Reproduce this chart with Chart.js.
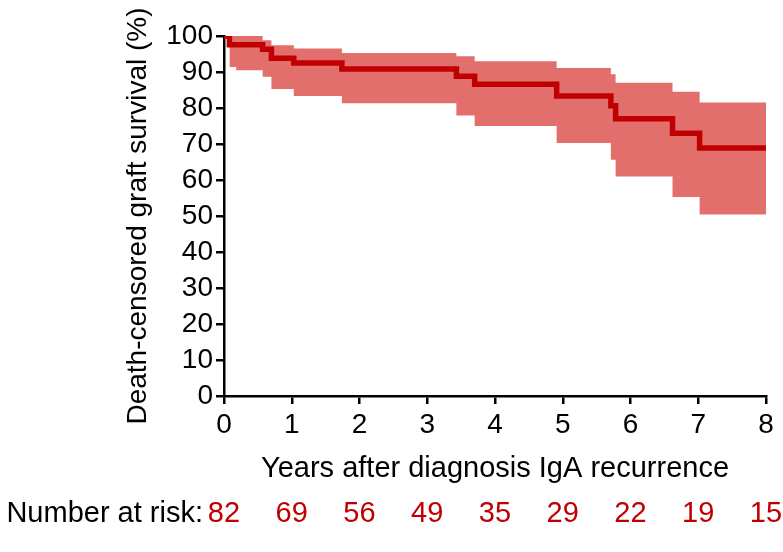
<!DOCTYPE html>
<html>
<head>
<meta charset="utf-8">
<script src="https://cdn.jsdelivr.net/npm/chart.js@4.4.1/dist/chart.umd.min.js"></script>
<style>
  body { margin: 0; background: #fff; }
  #wrap { width: 783px; height: 552px; }
</style>
</head>
<body>
<div id="wrap"><canvas id="kmChart"></canvas></div>
<script>
// Kaplan-Meier estimate (years, %)
const survTime  = [0, 0.08, 0.57, 0.70, 1.03, 1.74, 3.43, 3.70, 4.91, 5.71, 5.78, 6.62, 7.02, 8];
const survValue = [100, 97.6, 96.3, 93.8, 92.5, 90.8, 88.8, 86.6, 83.3, 80.6, 77.0, 73.0, 68.9, 68.9];

// 95% CI band
const upperTime  = [0.08, 0.57, 0.70, 1.03, 1.74, 3.43, 3.70, 4.91, 5.71, 5.78, 6.62, 7.02, 8];
const upperValue = [100, 98.8, 97.4, 96.5, 95.3, 94.4, 93.0, 91.1, 89.4, 87.0, 84.5, 81.5, 81.5];
const lowerTime  = [0.08, 0.18, 0.57, 0.70, 1.03, 1.74, 3.43, 3.70, 4.91, 5.71, 5.78, 6.62, 7.02, 8];
const lowerValue = [91.4, 90.5, 88.7, 85.3, 83.3, 81.3, 77.9, 75.0, 70.3, 65.6, 61.0, 55.3, 50.4, 50.4];

// number at risk row
const riskYears  = [0, 1, 2, 3, 4, 5, 6, 7, 8];
const riskCounts = [82, 69, 56, 49, 35, 29, 22, 19, 15];

const xTicks = [0, 1, 2, 3, 4, 5, 6, 7, 8];
const yTicks = [0, 10, 20, 30, 40, 50, 60, 70, 80, 90, 100];

const FONT = '"Liberation Sans", Arial, Helvetica, sans-serif';
const toPoints = (xs, ys) => xs.map((x, i) => ({ x: x, y: ys[i] }));

const riskRow = {
    id: 'riskRow',
    afterDraw(chart) {
        const { ctx } = chart;
        const xScale = chart.scales.x;
        ctx.save();
        ctx.font = '29px ' + FONT;
        ctx.textBaseline = 'middle';
        ctx.fillStyle = '#000';
        ctx.textAlign = 'right';
        ctx.fillText('Number at risk:', 203, 514);
        ctx.fillStyle = '#c00000';
        ctx.textAlign = 'center';
        riskYears.forEach((t, i) => {
            ctx.fillText(String(riskCounts[i]), xScale.getPixelForValue(t), 514);
        });
        ctx.restore();
    }
};

document.addEventListener('DOMContentLoaded', () => {
    const ctx = document.getElementById('kmChart');

    new Chart(ctx, {
        type: 'line',
        data: {
            datasets: [
                {
                    label: 'Survival',
                    data: toPoints(survTime, survValue),
                    stepped: 'before',
                    borderColor: '#c00000',
                    borderWidth: 5.5,
                    pointRadius: 0,
                    fill: false
                },
                {
                    label: 'Upper CI',
                    data: toPoints(upperTime, upperValue),
                    stepped: 'before',
                    borderWidth: 0,
                    borderColor: 'rgba(0,0,0,0)',
                    pointRadius: 0,
                    fill: false
                },
                {
                    label: 'Lower CI',
                    data: toPoints(lowerTime, lowerValue),
                    stepped: 'before',
                    borderWidth: 0,
                    borderColor: 'rgba(0,0,0,0)',
                    backgroundColor: '#e36f6c',
                    pointRadius: 0,
                    fill: 1
                }
            ]
        },
        options: {
            responsive: true,
            maintainAspectRatio: false,
            animation: false,
            layout: {
                padding: { left: 0, right: 17, top: 36, bottom: 61 }
            },
            plugins: {
                legend: { display: false },
                tooltip: { enabled: false }
            },
            scales: {
                x: {
                    type: 'linear',
                    min: 0,
                    max: 8,
                    afterBuildTicks: s => { s.ticks = xTicks.map(v => ({ value: v })); },
                    afterFit: s => { s.height = 95; },
                    ticks: {
                        color: '#000',
                        font: { family: FONT, size: 28 },
                        padding: 4,
                        maxRotation: 0,
                        autoSkip: false
                    },
                    grid: {
                        drawOnChartArea: false,
                        color: '#000',
                        lineWidth: 2.5,
                        tickLength: 8
                    },
                    border: { color: '#000', width: 2.5 },
                    title: {
                        display: true,
                        text: 'Years after diagnosis IgA recurrence',
                        color: '#000',
                        font: { family: FONT, size: 29 },
                        padding: { top: 0, bottom: 5 }
                    }
                },
                y: {
                    min: 0,
                    max: 100,
                    afterBuildTicks: s => { s.ticks = yTicks.map(v => ({ value: v })); },
                    afterFit: s => { s.width = 224; },
                    ticks: {
                        color: '#000',
                        font: { family: FONT, size: 28 },
                        padding: 3,
                        autoSkip: false
                    },
                    grid: {
                        drawOnChartArea: false,
                        color: '#000',
                        lineWidth: 2.5,
                        tickLength: 8
                    },
                    border: { color: '#000', width: 2.5 },
                    title: {
                        display: true,
                        text: 'Death-censored graft survival (%)',
                        color: '#000',
                        font: { family: FONT, size: 28 },
                        padding: { top: 121, bottom: 0 }
                    }
                }
            }
        },
        plugins: [riskRow]
    });
});
</script>
</body>
</html>
